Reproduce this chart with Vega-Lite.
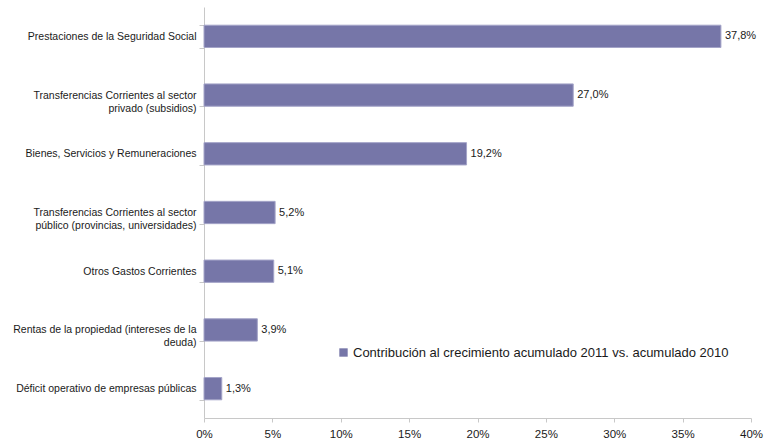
{
  "$schema": "https://vega.github.io/schema/vega-lite/v6.json",
  "width": 547,
  "height": 411,
  "autosize": {"type": "none"},
  "padding": {"left": 204, "top": 7, "right": 15, "bottom": 23},
  "background": "white",
  "config": {
    "view": {"stroke": null},
    "font": "Liberation Sans"
  },
  "data": {
    "values": [
      {"categoria": "Prestaciones de la Seguridad Social", "valor": 37.8, "etiqueta": "37,8%", "serie": "Contribución al crecimiento acumulado 2011 vs. acumulado 2010"},
      {"categoria": "Transferencias Corrientes al sector|privado (subsidios)", "valor": 27.0, "etiqueta": "27,0%", "serie": "Contribución al crecimiento acumulado 2011 vs. acumulado 2010"},
      {"categoria": "Bienes, Servicios y Remuneraciones", "valor": 19.2, "etiqueta": "19,2%", "serie": "Contribución al crecimiento acumulado 2011 vs. acumulado 2010"},
      {"categoria": "Transferencias Corrientes al sector|público (provincias, universidades)", "valor": 5.2, "etiqueta": "5,2%", "serie": "Contribución al crecimiento acumulado 2011 vs. acumulado 2010"},
      {"categoria": "Otros Gastos Corrientes", "valor": 5.1, "etiqueta": "5,1%", "serie": "Contribución al crecimiento acumulado 2011 vs. acumulado 2010"},
      {"categoria": "Rentas de la propiedad (intereses de la|deuda)", "valor": 3.9, "etiqueta": "3,9%", "serie": "Contribución al crecimiento acumulado 2011 vs. acumulado 2010"},
      {"categoria": "Déficit operativo de empresas públicas", "valor": 1.3, "etiqueta": "1,3%", "serie": "Contribución al crecimiento acumulado 2011 vs. acumulado 2010"}
    ]
  },
  "encoding": {
    "y": {
      "field": "categoria",
      "type": "nominal",
      "sort": null,
      "title": null,
      "scale": {"paddingInner": 0.62, "paddingOuter": 0.31},
      "axis": {
        "labelExpr": "split(datum.label, '|')",
        "labelFontSize": 10.5,
        "labelColor": "#1a1a1a",
        "labelLimit": 250,
        "labelPadding": 3,
        "labelLineHeight": 13,
        "tickBand": "extent",
        "tickSize": 5,
        "tickColor": "#c8c8c8",
        "domainColor": "#c8c8c8",
        "grid": false
      }
    },
    "x": {
      "field": "valor",
      "type": "quantitative",
      "title": null,
      "scale": {"domain": [0, 40], "nice": false},
      "axis": {
        "values": [0, 5, 10, 15, 20, 25, 30, 35, 40],
        "labelExpr": "datum.value + '%'",
        "labelFontSize": 11.5,
        "labelColor": "#1a1a1a",
        "labelPadding": 6,
        "labelFlush": false,
        "labelOverlap": false,
        "tickSize": 4,
        "tickColor": "#c8c8c8",
        "domainColor": "#c8c8c8",
        "grid": false
      }
    }
  },
  "layer": [
    {
      "mark": {"type": "bar", "stroke": "#a4a4c8", "strokeWidth": 1},
      "encoding": {
        "color": {
          "field": "serie",
          "type": "nominal",
          "scale": {"range": ["#7676a8"]},
          "legend": {
            "title": null,
            "orient": "none",
            "legendX": 133,
            "legendY": 339,
            "symbolType": "square",
            "symbolSize": 70,
            "symbolStrokeWidth": 0,
            "labelOffset": 3,
            "labelFontSize": 13,
            "labelColor": "#1a1a1a",
            "labelLimit": 500
          }
        }
      }
    },
    {
      "mark": {"type": "text", "align": "left", "dx": 4, "fontSize": 11, "color": "#1a1a1a"},
      "encoding": {"text": {"field": "etiqueta"}}
    }
  ]
}
